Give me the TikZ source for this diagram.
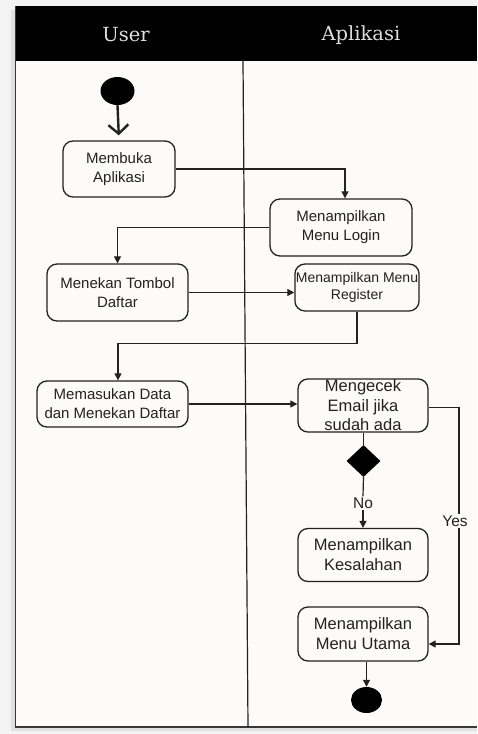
\documentclass[tikz,border=0pt]{standalone}
\usepackage{fontspec}
\setmainfont{Liberation Sans}
\newfontfamily\headfont{DejaVu Serif}
\usetikzlibrary{shapes.geometric,arrows.meta}
\definecolor{bg}{HTML}{FCFBFA}
\definecolor{ink}{HTML}{222222}
\definecolor{outer}{HTML}{F3F3F3}
\definecolor{headtxt}{HTML}{DDDDDD}
\begin{document}
\begin{tikzpicture}[x=1pt,y=-1pt,
  act/.style={draw=ink, line width=1.3pt, rounded corners=10pt, fill=bg, align=center,
    text=ink, inner sep=1pt, font=\fontsize{15}{19}\selectfont},
  conn/.style={draw=ink, line width=1.2pt, -{Triangle[length=7pt,width=7pt]}},
  plain/.style={draw=ink, line width=1.2pt},
  dot/.style={ellipse, fill=black, draw=none},
  lbl/.style={fill=bg, inner sep=1pt, text=ink, font=\fontsize{15.5}{18}\selectfont},
  head/.style={text=headtxt, font=\headfont\fontsize{19.5}{22}\selectfont}
]
\useasboundingbox (0,0) rectangle (477,734);
% background and frame
\fill[outer] (0,0) rectangle (477,734);
\fill[black!12] (11,10) rectangle (477,731);
\fill[bg] (15,6) rectangle (477,727);
\fill[black] (15,6) rectangle (477,61);
\draw[ink!90, line width=1.6pt] (15.5,6) -- (15.5,727) -- (477,727);
\draw[ink, line width=1.2pt] (243,61) -- (248,727);
\node[head] (huser) at (126,35) {User};
\node[head] (happ) at (361,35) {Aplikasi};

% nodes
\node[dot, minimum width=34pt, minimum height=28pt] (start) at (117.5,91) {};
\node[act, minimum width=112pt, minimum height=56pt] (membuka) at (119,169) {Membuka\\Aplikasi};
\node[act, minimum width=142pt, minimum height=57pt] (login) at (341,227.5) {Menampilkan\\Menu Login};
\node[act, minimum width=141pt, minimum height=57pt] (menekan) at (117.5,292.5) {Menekan Tombol\\Daftar};
\node[act, minimum width=124pt, minimum height=47pt, font=\fontsize{14}{17}\selectfont] (register) at (357,287.5) {Menampilkan Menu\\Register};
\node[act, minimum width=151pt, minimum height=46pt] (memasukan) at (112.5,404) {Memasukan Data\\dan Menekan Daftar};
\node[act, minimum width=130pt, minimum height=53pt, font=\fontsize{16.5}{19.5}\selectfont] (mengecek) at (363,405.5) {Mengecek\\Email jika\\sudah ada};
\node[diamond, fill=black, minimum width=34pt, minimum height=32pt, inner sep=0pt] (dec) at (363.5,461) {};
\node[lbl] (no) at (363,503) {No};
\node[act, minimum width=130pt, minimum height=53pt, font=\fontsize{16.5}{20}\selectfont] (kes) at (363,555) {Menampilkan\\Kesalahan};
\node[act, minimum width=130pt, minimum height=54pt, font=\fontsize{16.5}{20}\selectfont] (utama) at (363,634) {Menampilkan\\Menu Utama};
\node[dot, minimum width=31pt, minimum height=26pt] (end) at (366.5,700) {};
\node[lbl] (yes) at (455,521) {Yes};

% connectors
\draw[draw=ink, line width=2.4pt, -{Straight Barb[length=9pt,width=20pt,line width=2.4pt]}, shorten >=5pt] (start.south) -- (membuka.north);
\draw[conn] (membuka.east) -| ([xshift=4pt]login.north);
\draw[conn] (login.west) -| (menekan.north);
\draw[conn] (menekan.east) -- (register.west |- menekan.east);
\draw[conn] (register.south) -- ++(0,32) -| ([xshift=5.5pt]memasukan.north);
\draw[conn] (memasukan.east) -- (mengecek.west |- memasukan.east);
\draw[plain] (mengecek.south -| dec.north) -- (dec.north);
\draw[plain] (dec.south) -- (no.north);
\draw[conn] (no.south) -- (kes.north -| no.south);
\draw[plain] ([yshift=-2pt]mengecek.east) -| ([xshift=4pt]yes.north);
\draw[conn] ([xshift=4pt]yes.south) |- ([yshift=-10pt]utama.east);
\draw[conn] (end.north |- utama.south) -- (end.north);
\end{tikzpicture}
\end{document}
